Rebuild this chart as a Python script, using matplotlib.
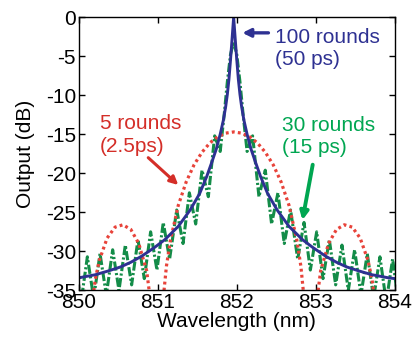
import numpy as np
import matplotlib
matplotlib.use('Agg')
import matplotlib.pyplot as plt

plt.rcParams['font.family'] = ['Liberation Sans', 'DejaVu Sans']
plt.rcParams['axes.unicode_minus'] = False

# ---- data (wavelength in nm, output in dB) ----
blue_x = [850.00, 850.21, 850.38, 850.53, 850.66, 850.80, 850.96, 851.09, 851.26,
          851.41, 851.53, 851.62, 851.69, 851.74, 851.79, 851.83, 851.86, 851.88,
          851.90, 851.92, 851.94, 851.96, 851.98, 852.00, 852.02, 852.04, 852.06,
          852.09, 852.13, 852.18, 852.23, 852.30, 852.39, 852.51, 852.66, 852.83,
          852.96, 853.12, 853.26, 853.39, 853.54, 853.71, 853.92, 854.00]
blue_db = [-33.4, -33.0, -32.5, -32.0, -31.4, -30.6, -29.5, -28.5, -26.8,
           -24.7, -22.6, -20.4, -18.4, -16.9, -15.0, -13.2, -11.4, -9.9,
           -8.0, -5.5, -2.8, 0.0, -2.8, -5.5, -8.0, -9.9, -11.4,
           -13.2, -15.0, -16.9, -18.4, -20.4, -22.6, -24.7, -26.8, -28.5,
           -29.5, -30.6, -31.4, -32.0, -32.5, -33.0, -33.4, -33.5]

green_x = [849.95, 850.03, 850.11, 850.19, 850.27, 850.35, 850.43, 850.51, 850.59,
           850.67, 850.75, 850.83, 850.91, 850.99, 851.07, 851.15, 851.24, 851.32,
           851.40, 851.48, 851.56, 851.64, 851.72, 851.79, 851.84, 851.88, 851.92,
           851.96, 852.00, 852.04, 852.08, 852.13, 852.20, 852.28, 852.36, 852.44,
           852.52, 852.60, 852.68, 852.77, 852.85, 852.93, 853.01, 853.09, 853.17,
           853.25, 853.33, 853.41, 853.49, 853.57, 853.65, 853.73, 853.81, 853.89,
           853.97, 854.05]
green_db = [-31.0, -36.5, -30.7, -36.0, -30.3, -35.6, -29.8, -35.0, -29.2,
            -34.3, -28.5, -33.5, -27.5, -32.4, -26.3, -31.0, -24.7, -29.0,
            -22.5, -26.5, -19.6, -23.0, -15.2, -17.2, -12.5, -8.3, -4.8,
            -3.1, -4.8, -8.3, -12.5, -17.2, -15.2, -23.0, -19.6, -26.5,
            -22.5, -29.0, -24.7, -31.0, -26.3, -32.4, -27.5, -33.5, -28.5,
            -34.3, -29.2, -35.0, -29.8, -35.6, -30.3, -36.0, -30.7, -36.5,
            -31.0, -37.0]

red_x = [850.06, 850.16, 850.21, 850.26, 850.36, 850.46, 850.56, 850.66, 850.76,
         850.86, 850.91, 850.985, 851.06, 851.11, 851.16, 851.26, 851.36, 851.46,
         851.56, 851.66, 851.76, 851.86, 851.96, 852.06, 852.16, 852.26, 852.36,
         852.46, 852.56, 852.66, 852.76, 852.81, 852.86, 852.935, 853.01, 853.06,
         853.16, 853.26, 853.36, 853.46, 853.56, 853.66, 853.71, 853.76, 853.86]
red_db = [-48.0, -37.5, -33.6, -31.2, -28.3, -26.9, -26.6, -27.2, -29.0,
          -32.5, -36.5, -55.0, -37.0, -31.9, -28.6, -24.1, -21.1, -18.9,
          -17.3, -16.1, -15.3, -14.85, -14.7, -14.85, -15.3, -16.1, -17.3,
          -18.9, -21.1, -24.1, -28.6, -31.9, -37.0, -55.0, -36.5, -32.5,
          -29.0, -27.2, -26.6, -26.9, -28.3, -31.2, -33.6, -37.5, -48.0]

xticks = [850, 851, 852, 853, 854]
yticks = [0, -5, -10, -15, -20, -25, -30, -35]

c_blue = '#2E3192'
c_red = '#E8433A'
c_red_txt = '#D42E28'
c_green = '#138C48'
c_green_txt = '#00A651'

fig = plt.figure(figsize=(4.14, 3.38), dpi=100)
ax = fig.add_axes([0.190, 0.141, 0.764, 0.808])

ax.plot(green_x, green_db, color=c_green, lw=2.2,
        linestyle=(0, (3.0, 0.8, 0.7, 0.8)))
ax.plot(red_x, red_db, color=c_red, lw=2.3, linestyle=(0, (0.9, 1.0)))
ax.plot(blue_x, blue_db, color=c_blue, lw=2.1)

ax.set_xlim(850, 854)
ax.set_ylim(-35, 0)
ax.set_xticks(xticks)
ax.set_yticks(yticks)
ax.set_xticklabels([str(t) for t in xticks])
ax.set_yticklabels([str(t) for t in yticks])
ax.tick_params(direction='in', top=True, right=True, length=4, width=1,
               labelsize=15)
ax.tick_params(axis='x', pad=2)
ax.tick_params(axis='y', pad=2)
for s in ax.spines.values():
    s.set_linewidth(1)

ax.set_xlabel('Wavelength (nm)', fontsize=15, labelpad=0)
ax.set_ylabel('Output (dB)', fontsize=15, labelpad=8)

# annotations
ax.text(852.48, -4.0, '100 rounds\n(50 ps)', color=c_blue, fontsize=15,
        ha='left', va='center', linespacing=1.25)
ax.annotate('', xy=(852.07, -2.0), xytext=(852.40, -2.0),
            arrowprops=dict(arrowstyle='-|>', color=c_blue, lw=2.4,
                            mutation_scale=12, shrinkA=0, shrinkB=0))

ax.text(850.27, -15.1, '5 rounds\n(2.5ps)', color=c_red_txt, fontsize=15,
        ha='left', va='center', linespacing=1.25)
ax.annotate('', xy=(851.26, -21.5), xytext=(850.88, -18.0),
            arrowprops=dict(arrowstyle='-|>', color=c_red_txt, lw=2.2,
                            mutation_scale=12, shrinkA=0, shrinkB=0))

ax.text(852.57, -15.3, '30 rounds\n(15 ps)', color=c_green_txt, fontsize=15,
        ha='left', va='center', linespacing=1.25)
ax.annotate('', xy=(852.83, -26.0), xytext=(852.96, -18.9),
            arrowprops=dict(arrowstyle='-|>', color=c_green_txt, lw=2.8,
                            mutation_scale=12, shrinkA=0, shrinkB=0))

fig.savefig('out.png', dpi=100)
